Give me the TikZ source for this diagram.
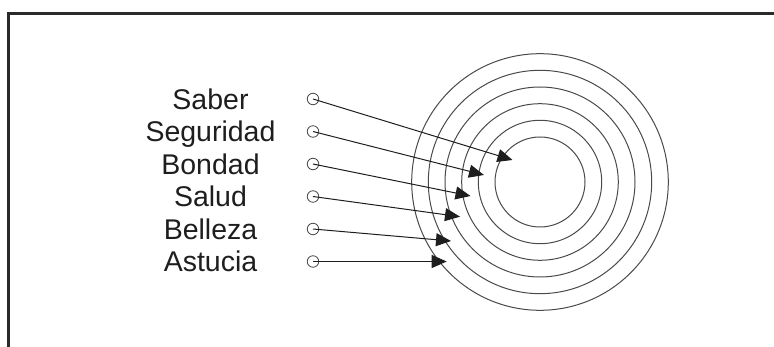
\documentclass[tikz,border=0pt]{standalone}
\usepackage{fontspec}
\setmainfont{Liberation Sans}
\usetikzlibrary{arrows.meta}
\definecolor{framecol}{HTML}{2A2A2A}
\definecolor{ringcol}{HTML}{4A4A4A}
\definecolor{textcol}{HTML}{1E1E1E}
\tikzset{
  frameline/.style={draw=framecol, line width=3pt},
  ring/.style={draw=ringcol, line width=1pt},
  port/.style={circle, draw=ringcol, line width=0.8pt, inner sep=0pt, minimum size=11.5pt},
  arr/.style={draw=textcol, line width=1pt, -{Triangle[length=15pt, width=13pt]}},
  lbl/.style={anchor=base, text=textcol, inner sep=0pt, font=\fontsize{28.5}{32}\selectfont}
}
\begin{document}
\begin{tikzpicture}[x=1pt, y=-1pt]
\useasboundingbox (0,0) rectangle (774,347);
% frame
\draw[frameline] (8.7,350) -- (8.7,13.8) -- (780,13.8);
% concentric rings
\coordinate (c) at (540,182);
\foreach \r in {45,61.7,78.3,95,111.7,128.3}
  \draw[ring] (c) circle (\r);
% labels
\node[lbl] (l1) at (210.5,109.5) {Saber};
\node[lbl] (l2) at (210.5,142) {Seguridad};
\node[lbl] (l3) at (210.5,174.5) {Bondad};
\node[lbl] (l4) at (210.5,207) {Salud};
\node[lbl] (l5) at (210.5,239.5) {Belleza};
\node[lbl] (l6) at (210.5,272) {Astucia};
% ports
\node[port] (p1) at (313,99) {};
\node[port] (p2) at (313,131.5) {};
\node[port] (p3) at (313,164) {};
\node[port] (p4) at (313,196.5) {};
\node[port] (p5) at (313,229) {};
\node[port] (p6) at (313,261.5) {};
% arrow tips
\coordinate (t1) at (512.5,160);
\coordinate (t2) at (484,175);
\coordinate (t3) at (470.5,196);
\coordinate (t4) at (460,216.7);
\coordinate (t5) at (451,241);
\coordinate (t6) at (446.7,261.5);
% connectors
\draw[arr] (p1.center) -- (t1);
\draw[arr] (p2.center) -- (t2);
\draw[arr] (p3.center) -- (t3);
\draw[arr] (p4.center) -- (t4);
\draw[arr] (p5.center) -- (t5);
\draw[arr] (p6.center) -- (t6);
\end{tikzpicture}
\end{document}
